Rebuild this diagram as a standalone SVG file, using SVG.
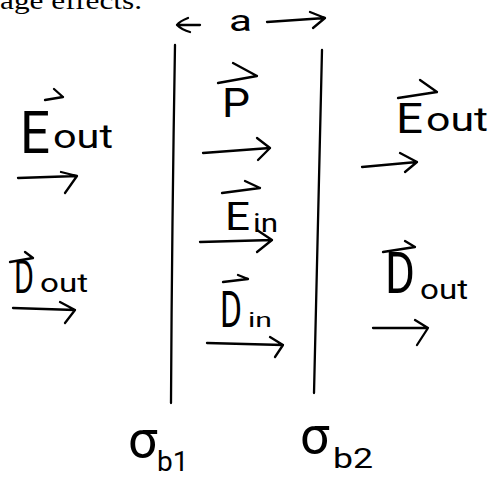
<svg xmlns="http://www.w3.org/2000/svg" width="492" height="477" viewBox="0 0 492 477">
<style>
.ln{fill:none;stroke:#000;stroke-width:2.3;stroke-linecap:round;stroke-linejoin:round}
.hw{font-family:Roboto,"Liberation Sans",sans-serif;font-weight:400;fill:#000}
.pg{font-family:"Liberation Serif",serif;fill:#000}
</style>
<rect width="492" height="477" fill="#fff"/>
<text class="pg" x="0" y="9" font-size="25" textLength="142" lengthAdjust="spacingAndGlyphs">age effects.</text>
<g id="plates">
<path class="ln" d="M175 45 Q172 220 171 403"/>
<path class="ln" d="M322 50 Q318 230 314 393"/>
</g>
<g id="width-a">
<path class="ln" d="M200 25 L177 25 M188 18 Q180 21 177 25 Q182 30 190 32"/>
<path class="ln" d="M267 22 L325 18 M310 12 L325 18 L313 28"/>
<text class="hw" x="229" y="31" font-size="30" textLength="23" lengthAdjust="spacingAndGlyphs">a</text>
</g>
<g id="E-out-left">
<text class="hw" x="20" y="153" font-size="60" textLength="30" lengthAdjust="spacingAndGlyphs">E</text>
<text class="hw" x="53" y="148" font-size="34" textLength="60" lengthAdjust="spacingAndGlyphs">out</text>
</g>
<g id="D-out-left">
<text class="hw" x="14" y="293" font-size="46" textLength="20" lengthAdjust="spacingAndGlyphs">D</text>
<text class="hw" x="40" y="292" font-size="26" textLength="48" lengthAdjust="spacingAndGlyphs">out</text>
</g>
<g id="P">
<text class="hw" x="222" y="117" font-size="40" textLength="28" lengthAdjust="spacingAndGlyphs">P</text>
</g>
<g id="E-in">
<text class="hw" x="225" y="230" font-size="38" textLength="25" lengthAdjust="spacingAndGlyphs">E</text>
<text class="hw" x="253" y="232" font-size="26" textLength="25" lengthAdjust="spacingAndGlyphs">in</text>
</g>
<g id="D-in">
<text class="hw" x="220" y="327" font-size="50" textLength="22" lengthAdjust="spacingAndGlyphs">D</text>
<text class="hw" x="248" y="327" font-size="21" textLength="24" lengthAdjust="spacingAndGlyphs">in</text>
</g>
<g id="E-out-right">
<text class="hw" x="396" y="133" font-size="42" textLength="27" lengthAdjust="spacingAndGlyphs">E</text>
<text class="hw" x="426" y="131" font-size="34" textLength="62" lengthAdjust="spacingAndGlyphs">out</text>
</g>
<g id="D-out-right">
<text class="hw" x="385" y="293" font-size="58" textLength="30" lengthAdjust="spacingAndGlyphs">D</text>
<text class="hw" x="420" y="299" font-size="28" textLength="48" lengthAdjust="spacingAndGlyphs">out</text>
</g>
<g id="sigma-b1">
<text class="hw" x="128" y="457" font-size="52">σ</text>
<text class="hw" x="157" y="471" font-size="28">b1</text>
</g>
<g id="sigma-b2">
<text class="hw" x="300" y="453" font-size="52">σ</text>
<text class="hw" x="333" y="468" font-size="28" textLength="40" lengthAdjust="spacingAndGlyphs">b2</text>
</g>
<g id="connectors">
<path class="ln" d="M45 100 L63 97 M54 89 L63 97"/>
<path class="ln" d="M218 83 L257 76 M233 63 L257 76"/>
<path class="ln" d="M222 193 L260 188 M245 181 L260 188"/>
<path class="ln" d="M398 98 L437 92 M420 80 L437 92"/>
<path class="ln" d="M10 262 L33 258 M25 252 L33 258"/>
<path class="ln" d="M223 282 L248 279 M238 275 L248 279"/>
<path class="ln" d="M383 252 L415 247 M405 241 L415 247"/>
<path class="ln" d="M18 178 L77 176 M61 172 L77 176 L65 193"/>
<path class="ln" d="M203 153 L270 148 M257 138 L270 148 L258 160"/>
<path class="ln" d="M362 167 L417 162 M400 153 L417 162 L405 172"/>
<path class="ln" d="M200 242 L272 240 M257 230 L272 240 L257 252"/>
<path class="ln" d="M13 308 L75 310 M60 302 L75 310 L65 323"/>
<path class="ln" d="M207 343 L283 345 M270 337 L283 345 L275 357"/>
<path class="ln" d="M373 328 L428 328 M415 320 L428 328 L417 345"/>
</g>
</svg>
